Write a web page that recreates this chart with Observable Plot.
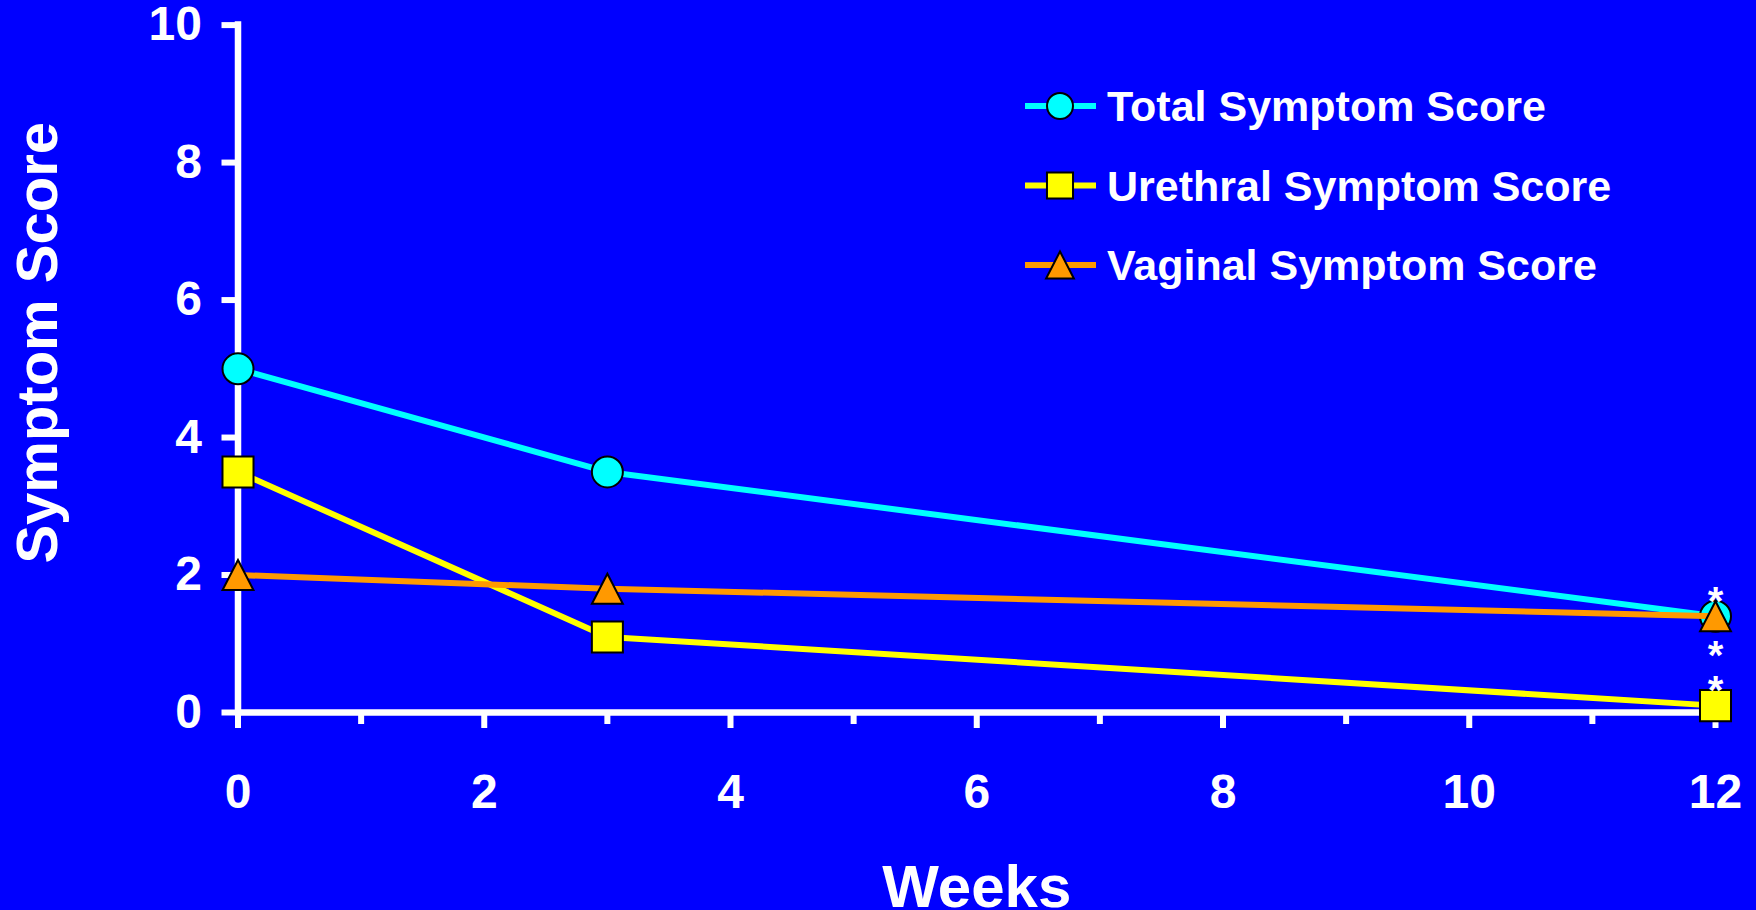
<!DOCTYPE html>
<html>
<head>
<meta charset="utf-8">
<script src="https://cdn.jsdelivr.net/npm/d3@7"></script>
<script src="https://cdn.jsdelivr.net/npm/@observablehq/plot@0.6"></script>
<style>
  html, body { margin: 0; padding: 0; background: #0000FF; }
  #wrap { position: relative; width: 1756px; height: 910px; background: #0000FF; overflow: hidden; }
  #legend { position: absolute; left: 0; top: 0; pointer-events: none; }
</style>
</head>
<body>
<div id="wrap"></div>
<script>
// ---- data ----
const weeks = [0, 3, 12];
const totalScore = [5.0, 3.5, 1.4];
const urethralScore = [3.5, 1.1, 0.1];
const vaginalScore = [2.0, 1.8, 1.4];
const seriesNames = ["Total Symptom Score", "Urethral Symptom Score", "Vaginal Symptom Score"];
const xMajorTicks = [0, 2, 4, 6, 8, 10, 12];
const xMinorTicks = [1, 3, 5, 7, 9, 11];
const yTicks = [0, 2, 4, 6, 8, 10];
const xLabel = "Weeks";
const yLabel = "Symptom Score";
const sigMark = "*";
const sigWeek = 12;

// ---- styles ----
// triangle centred on its bounding box (as in the reference)
const boxTriangle = {
  draw(context, size) {
    const t = Math.sqrt(size / Math.PI);
    const w = 2.06 * t, h = 2 * t;
    context.moveTo(0, -h / 2);
    context.lineTo(w / 2, h / 2);
    context.lineTo(-w / 2, h / 2);
    context.closePath();
  }
};
const seriesValues = [totalScore, urethralScore, vaginalScore];
const colors = ["#00FFFF", "#FFFF00", "#FF9900"];
const symbols = [d3.symbolCircle, d3.symbolSquare, boxTriangle];
const radii = [15.5, 17.5, 15];
const legendRadii = [13, 14.7, 13.5];
const font = "'Liberation Sans', Arial, sans-serif";
const fmt = d3.format("d");

const series = seriesNames.map((name, i) => ({
  name, color: colors[i], symbol: symbols[i], r: radii[i], lr: legendRadii[i],
  rows: weeks.map((w, j) => ({week: w, score: seriesValues[i][j]}))
}));

const sigRow = (i) => [{week: sigWeek, score: seriesValues[i][weeks.indexOf(sigWeek)]}];

const marks = [
  Plot.axisY(yTicks, {tickSize: 16, tickPadding: 20, stroke: "white", strokeWidth: 6,
    fill: "white", fontSize: 48, fontWeight: "bold", label: null, tickFormat: fmt}),
  Plot.axisX(xMinorTicks, {tickSize: 12, stroke: "white", strokeWidth: 6, fill: "none", label: null}),
  Plot.axisX(xMajorTicks, {tickSize: 16, tickPadding: 45, stroke: "white", strokeWidth: 6,
    fill: "white", fontSize: 48, fontWeight: "bold", label: null, tickFormat: fmt}),
  Plot.ruleX([0], {y1: 0, y2: 10, stroke: "white", strokeWidth: 6.5, strokeLinecap: "square"}),
  Plot.ruleY([0], {x1: 0, x2: 12, stroke: "white", strokeWidth: 6.5})
];

series.forEach(s => {
  marks.push(Plot.line(s.rows, {x: "week", y: "score", stroke: s.color, strokeWidth: 6}));
  marks.push(Plot.dot(s.rows, {x: "week", y: "score", symbol: s.symbol, r: s.r,
    fill: s.color, stroke: "black", strokeWidth: 2}));
});

// significance asterisks at week 12
const sigStyle = {x: "week", y: "score", text: () => sigMark, fill: "white",
  fontSize: 40, fontWeight: "bold", lineAnchor: "middle"};
marks.push(Plot.text(sigRow(0), {...sigStyle, dy: -14}));
marks.push(Plot.text(sigRow(2), {...sigStyle, dy: 40}));
marks.push(Plot.text(sigRow(1), {...sigStyle, dy: -14}));

// axis titles
marks.push(Plot.text([yLabel], {frameAnchor: "left", textAnchor: "middle", rotate: -90, dx: -200, dy: -26,
  fill: "white", fontSize: 58, fontWeight: "bold", lineAnchor: "middle"}));
marks.push(Plot.text([xLabel], {frameAnchor: "bottom", dy: 175,
  fill: "white", fontSize: 60, fontWeight: "bold", lineAnchor: "middle"}));

const chart = Plot.plot({
  width: 1756,
  height: 910,
  marginLeft: 237.5,
  marginRight: 41,
  marginTop: 24.6,
  marginBottom: 198,
  style: {background: "transparent", color: "white", fontFamily: font, overflow: "visible"},
  x: {domain: [0, 12]},
  y: {domain: [0, 10]},
  marks
});
document.getElementById("wrap").appendChild(chart);

// ---- legend ----
const leg = d3.select("#wrap").append("svg")
  .attr("id", "legend").attr("width", 1756).attr("height", 910);
series.forEach((s, i) => {
  const y = 106 + i * 79.5;
  const g = leg.append("g");
  g.append("line").attr("x1", 1025).attr("x2", 1096).attr("y1", y).attr("y2", y)
    .attr("stroke", s.color).attr("stroke-width", 6);
  g.append("path").attr("d", d3.symbol(s.symbol, Math.PI * s.lr * s.lr)())
    .attr("transform", `translate(1060,${y})`)
    .attr("fill", s.color).attr("stroke", "black").attr("stroke-width", 2);
  g.append("text").attr("x", 1107).attr("y", y).attr("dy", "0.35em")
    .attr("fill", "white").attr("font-family", font).attr("font-weight", "bold")
    .attr("font-size", 43).text(s.name);
});
</script>
</body>
</html>
